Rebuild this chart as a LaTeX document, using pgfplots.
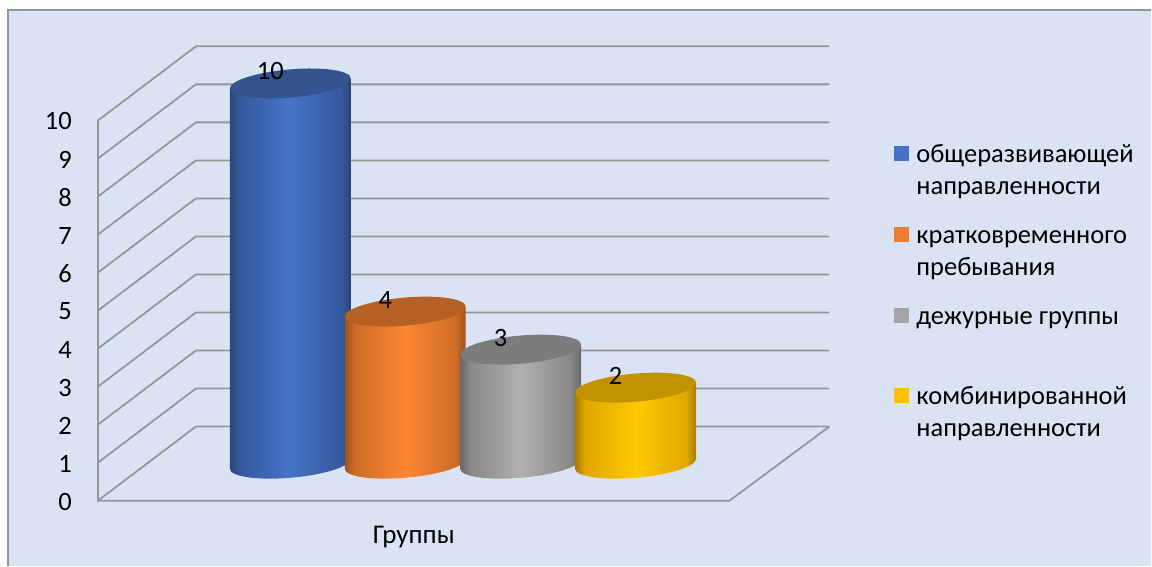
\documentclass[border=0pt]{standalone}
\usepackage{fontspec}
\setmainfont{Carlito}
\usepackage{pgfplots}
\pgfplotsset{compat=1.18}
\definecolor{panel}{RGB}{218,227,243}
\definecolor{gridc}{RGB}{150,150,150}
\newcommand{\defcyl}[5]{%
  \pgfdeclarehorizontalshading{shade-#1}{100bp}{%
    color(0bp)=(#2); color(25bp)=(#2); color(29bp)=(#3); color(50bp)=(#4);
    color(71bp)=(#3); color(75bp)=(#2); color(100bp)=(#2)}%
  \pgfdeclareplotmark{cyl-#1}{%
    \pgfmathsetlengthmacro\cylb{-(\cylval*38.05)-5}%
    \pgfpathmoveto{\pgfpoint{-60.5pt}{-5pt}}%
    \pgfpathlineto{\pgfpoint{-60.5pt}{\cylb}}%
    \pgfpatharcaxes{180}{360}{\pgfpoint{60.5pt}{5pt}}{\pgfpoint{0pt}{14.1pt}}%
    \pgfpathlineto{\pgfpoint{60.5pt}{5pt}}%
    \pgfpathclose
    \pgfshadepath{shade-#1}{0}%
    \pgfusepath{discard}%
    \pgfsetfillcolor{#5}%
    \pgfpathellipse{\pgfpointorigin}{\pgfpoint{60.5pt}{5pt}}{\pgfpoint{0pt}{14.1pt}}%
    \pgfusepath{fill}%
  }}
\definecolor{bE}{RGB}{42,70,120}\definecolor{bM}{RGB}{52,88,155}\definecolor{bP}{RGB}{70,116,200}\definecolor{bT}{RGB}{51,84,143}
\definecolor{oE}{RGB}{156,82,32}\definecolor{oM}{RGB}{205,108,38}\definecolor{oP}{RGB}{255,135,50}\definecolor{oT}{RGB}{181,96,36}
\definecolor{gE}{RGB}{104,104,104}\definecolor{gM}{RGB}{135,135,135}\definecolor{gP}{RGB}{176,176,176}\definecolor{gT}{RGB}{124,124,124}
\definecolor{yE}{RGB}{166,124,0}\definecolor{yM}{RGB}{225,168,0}\definecolor{yP}{RGB}{255,200,0}\definecolor{yT}{RGB}{194,146,0}
\definecolor{lb}{RGB}{68,114,196}\definecolor{lo}{RGB}{237,125,49}\definecolor{lg}{RGB}{165,165,165}\definecolor{ly}{RGB}{255,192,0}
\defcyl{b}{bE}{bM}{bP}{bT}
\defcyl{o}{oE}{oM}{oP}{oT}
\defcyl{g}{gE}{gM}{gP}{gT}
\defcyl{y}{yE}{yM}{yP}{yT}
\newcommand{\lf}{\fontsize{26.5}{32}\selectfont}
\newcommand{\lent}[2]{\parbox[t]{232pt}{\lf\rule{0pt}{18pt}#1\\#2}}
\begin{document}
\begin{tikzpicture}[x=1pt,y=1pt]
\fill[white] (0,0) rectangle (1152,566);
\fill[panel] (8,0) rectangle (1152,556);
\draw[color=gridc,line width=1.5pt] (8,0) -- (8,556) -- (1152,556);
\begin{axis}[
  at={(98pt,65pt)}, anchor=south west, scale only axis,
  width=732pt, height=455pt,
  xmin=98, xmax=830, ymin=0, ymax=11.96,
  clip=false, unbounded coords=jump,
  axis x line=bottom, axis y line=left,
  axis line style={draw=none,-},
  xtick=\empty,
  ytick={0,1,2,3,4,5,6,7,8,9,10},
  major tick length=0pt,
  /pgf/number format/assume math mode=true,
  yticklabel style={font=\fontsize{26.5}{30}\selectfont,inner sep=0pt,xshift=-26pt,yshift=-1pt},
  xlabel={Группы},
  every axis x label/.style={at={(axis cs:414,-0.95)},anchor=center,font=\fontsize{27}{30}\selectfont},
]
\addplot[color=gridc,line width=1.8pt,line join=miter] coordinates {
 (196,1.95) (98,0) (98,10) (196,11.95) (830,11.95) (nan,nan)
 (98,9) (196,10.95) (830,10.95) (nan,nan)
 (98,8) (196,9.95) (830,9.95) (nan,nan)
 (98,7) (196,8.95) (830,8.95) (nan,nan)
 (98,6) (196,7.95) (830,7.95) (nan,nan)
 (98,5) (196,6.95) (830,6.95) (nan,nan)
 (98,4) (196,5.95) (830,5.95) (nan,nan)
 (98,3) (196,4.95) (830,4.95) (nan,nan)
 (98,2) (196,3.95) (830,3.95) (nan,nan)
 (98,1) (196,2.95) (830,2.95) (nan,nan)
 (830,1.95) (196,1.95) (nan,nan)
 (98,0) (730,0) (830,1.95)
};
\end{axis}
\begin{axis}[
  at={(98pt,102pt)}, anchor=south west, scale only axis,
  width=732pt, height=418.55pt,
  xmin=98, xmax=830, ymin=0, ymax=11,
  clip=false, axis lines=none,
  point meta min=0, point meta max=10,
  /pgf/number format/assume math mode=true,
  visualization depends on={rawy \as \cylval},
  nodes near coords,
  every node near coord/.append style={anchor=center,xshift=-20pt,yshift=12pt,font=\fontsize{26.5}{30}\selectfont,text=black,inner sep=0pt},
  legend style={at={(rel axis cs:1.0888,0.762)},anchor=north west,draw=none,fill=none,
    inner sep=0pt,outer sep=0pt,row sep=0pt,
    nodes={inner sep=0pt,outer sep=0pt,text height=18pt,text depth=62.7pt},
    /tikz/every odd column/.append style={column sep=7pt}},
  legend cell align=left,
]
\addplot[scatter,only marks,mark=cyl-b,forget plot] coordinates {(290.5,10)};
\addplot[scatter,only marks,mark=cyl-o,forget plot] coordinates {(405.5,4)};
\addplot[scatter,only marks,mark=cyl-g,forget plot] coordinates {(521,3)};
\addplot[scatter,only marks,mark=cyl-y,forget plot] coordinates {(636,2)};
\pgfplotsset{legend image code/.code={\fill[#1] (0pt,24pt) rectangle (15pt,39pt);}}
\addlegendimage{fill=lb,draw=none}
\addlegendentry{\lent{общеразвивающей}{направленности}}
\addlegendimage{fill=lo,draw=none}
\addlegendentry{\lent{кратковременного}{пребывания}}
\addlegendimage{fill=lg,draw=none}
\addlegendentry{\lent{дежурные группы}{}}
\addlegendimage{fill=ly,draw=none}
\addlegendentry{\lent{комбинированной}{направленности}}
\end{axis}
\end{tikzpicture}
\end{document}
